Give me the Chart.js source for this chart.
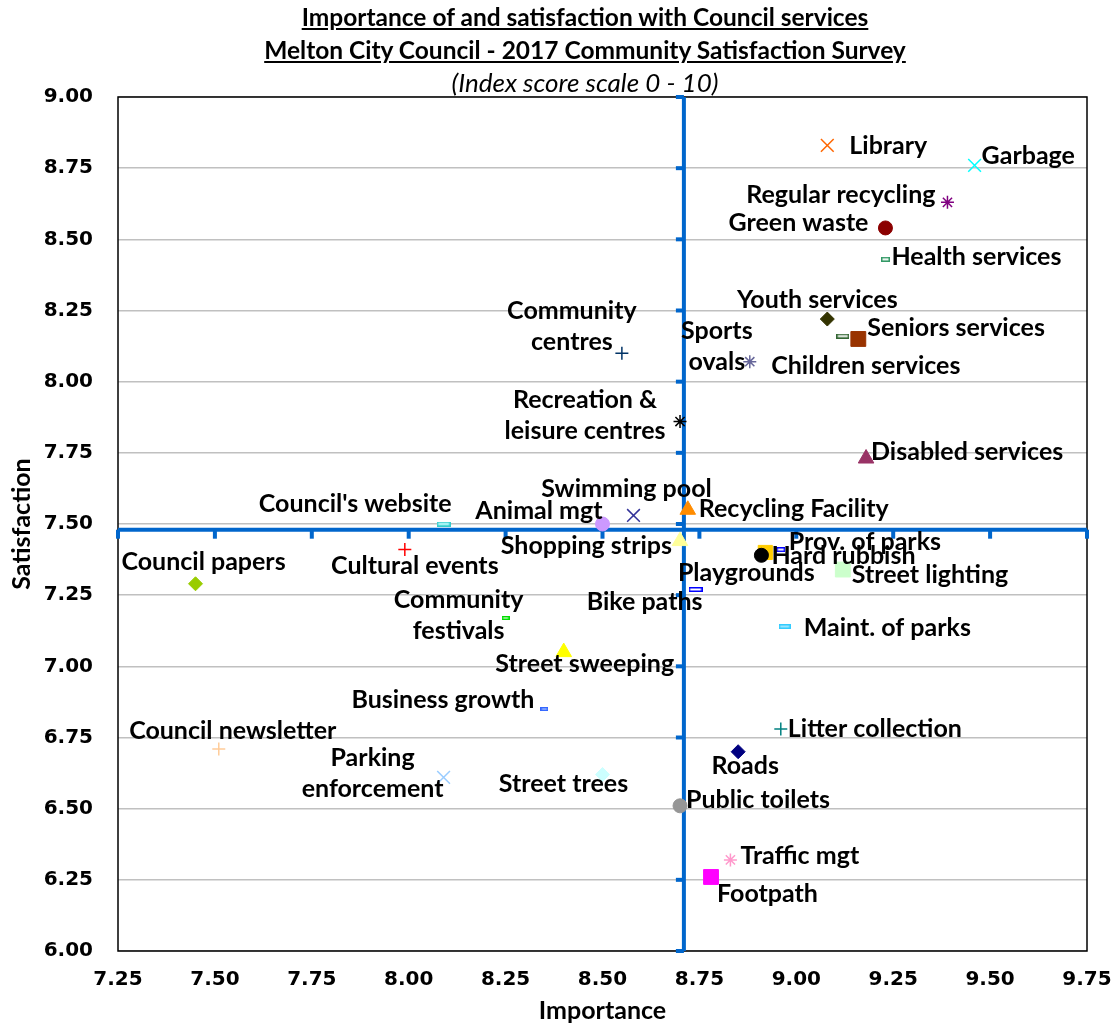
<!DOCTYPE html>
<html>
<head>
<meta charset="utf-8">
<title>Importance of and satisfaction with Council services</title>
<script src="https://cdn.jsdelivr.net/npm/chart.js@4.4.1/dist/chart.umd.min.js"></script>
<style>
  html, body { margin: 0; padding: 0; background: #fff; }
  #wrap { position: relative; width: 1115px; height: 1028px; }
  #titles {
    position: absolute; left: 0; top: 0; width: 1170px;
    text-align: center; font-family: Lato, sans-serif; font-size: 24.5px;
    line-height: 33px; color: #000;
  }
  #titles .main { font-weight: bold; text-decoration: underline; }
  #titles .sub { font-style: italic; font-size: 26px; }
  canvas { position: absolute; left: 0; top: 0; }
</style>
</head>
<body>
<div id="wrap">
  <canvas id="chart" width="1115" height="1028"></canvas>
  <div id="titles">
    <div class="main">Importance of and satisfaction with Council services</div>
    <div class="main">Melton City Council - 2017 Community Satisfaction Survey</div>
    <div class="sub">(Index score scale 0 - 10)</div>
  </div>
</div>
<script>
// values
const services = [
  "Library", "Garbage", "Regular recycling", "Green waste", "Health services",
  "Youth services", "Seniors services", "Children services", "Sports ovals",
  "Community centres", "Recreation & leisure centres", "Disabled services",
  "Recycling Facility", "Swimming pool", "Animal mgt", "Shopping strips",
  "Council's website", "Cultural events", "Council papers", "Community festivals",
  "Street sweeping", "Business growth", "Council newsletter", "Parking enforcement",
  "Street trees", "Public toilets", "Roads", "Litter collection", "Traffic mgt",
  "Footpath", "Maint. of parks", "Bike paths", "Playgrounds", "Hard rubbish",
  "Prov. of parks", "Street lighting"
];
const importance = [
  9.08, 9.46, 9.39, 9.23, 9.23,
  9.08, 9.16, 9.12, 8.88,
  8.55, 8.70, 9.18,
  8.72, 8.58, 8.50, 8.70,
  8.09, 7.99, 7.45, 8.25,
  8.40, 8.35, 7.51, 8.09,
  8.50, 8.70, 8.85, 8.96, 8.83,
  8.78, 8.97, 8.74, 8.92, 8.91,
  8.96, 9.12
];
const satisfaction = [
  8.83, 8.76, 8.63, 8.54, 8.43,
  8.22, 8.15, 8.16, 8.07,
  8.10, 7.86, 7.73,
  7.55, 7.53, 7.50, 7.44,
  7.50, 7.41, 7.29, 7.17,
  7.05, 6.85, 6.71, 6.61,
  6.62, 6.51, 6.70, 6.78, 6.32,
  6.26, 7.14, 7.27, 7.40, 7.39,
  7.41, 7.34
];
const meanImportance = 8.71;
const meanSatisfaction = 7.48;
const xMin = 7.25, xMax = 9.75, yMin = 6.00, yMax = 9.00, tickStep = 0.25;

// small outlined bar used by Excel's "dash" marker
function dash(w, h, stroke, fill) {
  const c = document.createElement("canvas");
  c.width = w; c.height = h;
  const g = c.getContext("2d");
  g.fillStyle = fill;
  g.fillRect(0, 0, w, h);
  g.strokeStyle = stroke;
  g.lineWidth = 1.5;
  g.strokeRect(0.75, 0.75, w - 1.5, h - 1.5);
  return c;
}

// marker look per service: [style, colour, radius]
const markers = {
  "Library": ["crossRot", "#FF6600", 9],
  "Garbage": ["crossRot", "#00FFFF", 9],
  "Regular recycling": ["star", "#800080", 6.5],
  "Green waste": ["circle", "#8B0000", 7],
  "Health services": [dash(9, 5, "#339966", "#FFFFFF"), "#339966", 5],
  "Youth services": ["rectRot", "#333300", 7],
  "Seniors services": ["rect", "#993300", 10.5],
  "Children services": [dash(13, 5, "#336633", "#FFFFFF"), "#336633", 5],
  "Sports ovals": ["star", "#666699", 6.5],
  "Community centres": ["cross", "#003366", 6.5],
  "Recreation & leisure centres": ["star", "#000000", 6.5],
  "Disabled services": ["triangle", "#993366", 9],
  "Recycling Facility": ["triangle", "#FF8C00", 9],
  "Swimming pool": ["crossRot", "#333399", 9],
  "Animal mgt": ["circle", "#CC99FF", 7],
  "Shopping strips": ["triangle", "#FFFF99", 9],
  "Council's website": [dash(14, 5, "#33CCCC", "#CCFFFF"), "#33CCCC", 5],
  "Cultural events": ["cross", "#FF0000", 6.5],
  "Council papers": ["rectRot", "#99CC00", 7],
  "Community festivals": [dash(8, 4, "#00DD00", "#FFFFFF"), "#00DD00", 4],
  "Street sweeping": ["triangle", "#FFFF00", 9],
  "Business growth": [dash(8, 4, "#3366FF", "#CCDDFF"), "#3366FF", 4],
  "Council newsletter": ["cross", "#FFCC99", 6.5],
  "Parking enforcement": ["crossRot", "#99CCFF", 9],
  "Street trees": ["rectRot", "#CCFFFF", 7],
  "Public toilets": ["circle", "#969696", 7],
  "Roads": ["rectRot", "#000080", 7],
  "Litter collection": ["cross", "#008080", 6.5],
  "Traffic mgt": ["star", "#FF99CC", 6.5],
  "Footpath": ["rect", "#FF00FF", 10.5],
  "Maint. of parks": [dash(12, 5, "#33CCFF", "#99E6FF"), "#33CCFF", 5],
  "Bike paths": [dash(14, 5, "#0000FF", "#FFFFFF"), "#0000FF", 5],
  "Playgrounds": ["rect", "#FFCC00", 10],
  "Hard rubbish": ["circle", "#000000", 7],
  "Prov. of parks": [dash(9, 5, "#0000FF", "#FFFFFF"), "#0000FF", 5],
  "Street lighting": ["rect", "#CCFFCC", 10.5]
};

// label placement: [anchor, dx, dy, lines]  anchor l = text starts at dx, r = text ends at dx, c = centred
const labelPlace = {
  "Library": ["l", 22, 1],
  "Garbage": ["l", 7, -9],
  "Regular recycling": ["r", -12, -7],
  "Green waste": ["r", -17, -5],
  "Health services": ["l", 6, -2],
  "Youth services": ["c", -10, -19],
  "Seniors services": ["l", 9, -11],
  "Children services": ["c", 23, 30],
  "Sports ovals": ["c", -33, -15, ["Sports", "ovals"]],
  "Community centres": ["c", -50, -27, ["Community", "centres"]],
  "Recreation & leisure centres": ["c", -95, -6, ["Recreation &", "leisure centres"]],
  "Disabled services": ["l", 5, -7],
  "Recycling Facility": ["l", 11, -1],
  "Swimming pool": ["c", -7, -27],
  "Animal mgt": ["r", 0, -13],
  "Shopping strips": ["r", -8, 5],
  "Council's website": ["r", 8, -20],
  "Cultural events": ["c", 10, 16],
  "Council papers": ["c", 8, -22],
  "Community festivals": ["c", -47, -3, ["Community", "festivals"]],
  "Street sweeping": ["c", 21, 12],
  "Business growth": ["r", -10, -9],
  "Council newsletter": ["c", 14, -18],
  "Parking enforcement": ["c", -71, -4, ["Parking", "enforcement"]],
  "Street trees": ["c", -39, 9],
  "Public toilets": ["l", 6, -6],
  "Roads": ["c", 7, 14],
  "Litter collection": ["l", 7, 0],
  "Traffic mgt": ["l", 10, -4],
  "Footpath": ["l", 6, 17],
  "Maint. of parks": ["l", 19, 1],
  "Bike paths": ["r", 7, 12],
  "Playgrounds": ["c", -19, 20],
  "Hard rubbish": ["l", 10, 1],
  "Prov. of parks": ["l", 8, -8],
  "Street lighting": ["l", 9, 5]
};

const LABEL_FONT = "bold 25px Lato";
const TICK_FONT = { family: "'DejaVu Sans'", size: 20, weight: "bold" };
const AXIS_TITLE_FONT = { family: "Lato", size: 25, weight: "bold" };
const CROSS_COLOR = "#0066CC";

const points = services.map((s, i) => ({ x: importance[i], y: satisfaction[i] }));

const framePlugin = {
  id: "frame",
  beforeDatasetsDraw(chart) {
    const { ctx, chartArea: a, scales } = chart;
    ctx.save();
    ctx.strokeStyle = "#000";
    ctx.lineWidth = 1.5;
    ctx.strokeRect(a.left, a.top, a.right - a.left, a.bottom - a.top);
    // little tick marks hanging off the blue mean lines
    ctx.fillStyle = CROSS_COLOR;
    const cx = scales.x.getPixelForValue(meanImportance);
    const cy = scales.y.getPixelForValue(meanSatisfaction);
    scales.y.ticks.forEach(t => {
      const py = scales.y.getPixelForValue(t.value);
      ctx.fillRect(cx - 8, py - 2, 8, 4);
    });
    scales.x.ticks.forEach(t => {
      const px = scales.x.getPixelForValue(t.value);
      ctx.fillRect(px - 2, cy, 4, 9);
    });
    ctx.restore();
  }
};

const labelPlugin = {
  id: "pointLabels",
  afterDatasetsDraw(chart) {
    const { ctx } = chart;
    const meta = chart.getDatasetMeta(0);
    ctx.save();
    ctx.font = LABEL_FONT;
    ctx.fillStyle = "#000";
    ctx.textBaseline = "middle";
    meta.data.forEach((el, i) => {
      const [anchor, dx, dy, lines] = labelPlace[services[i]];
      const text = lines || [services[i]];
      ctx.textAlign = anchor === "l" ? "left" : anchor === "r" ? "right" : "center";
      const lh = 31;
      const y0 = el.y + dy - (text.length - 1) * lh / 2;
      text.forEach((t, k) => ctx.fillText(t, el.x + dx, y0 + k * lh));
    });
    ctx.restore();
  }
};

new Chart(document.getElementById("chart"), {
  type: "scatter",
  data: {
    datasets: [
      {
        label: "Services",
        data: points,
        order: 0,
        pointStyle: services.map(s => markers[s][0]),
        pointRadius: services.map(s => markers[s][2]),
        pointBackgroundColor: services.map(s => markers[s][1]),
        pointBorderColor: services.map(s => markers[s][1]),
        pointBorderWidth: services.map(s => (["cross", "crossRot", "star"].includes(markers[s][0]) ? 1.5 : 1))
      },
      {
        label: "Mean importance",
        type: "line",
        data: [{ x: meanImportance, y: yMin }, { x: meanImportance, y: yMax }],
        showLine: true, borderColor: CROSS_COLOR, borderWidth: 4, pointRadius: 0, order: 1
      },
      {
        label: "Mean satisfaction",
        type: "line",
        data: [{ x: xMin, y: meanSatisfaction }, { x: xMax, y: meanSatisfaction }],
        showLine: true, borderColor: CROSS_COLOR, borderWidth: 4, pointRadius: 0, order: 1
      }
    ]
  },
  options: {
    responsive: false,
    animation: false,
    layout: { padding: { top: 97, right: 28, left: 0, bottom: 0 } },
    plugins: { legend: { display: false }, tooltip: { enabled: false }, title: { display: false } },
    scales: {
      x: {
        type: "linear", min: xMin, max: xMax,
        // tick padding would otherwise also be added to the side padding
        afterFit: s => { s.height = 77; s.paddingRight = 28; s.paddingLeft = 0; },
        ticks: { stepSize: tickStep, callback: v => v.toFixed(2), font: TICK_FONT, color: "#000", padding: 17, maxRotation: 0 },
        grid: { display: false, drawTicks: false },
        border: { display: false },
        title: { display: true, text: "Importance", font: AXIS_TITLE_FONT, color: "#000", padding: { top: 0, bottom: 2 } }
      },
      y: {
        type: "linear", min: yMin, max: yMax,
        afterFit: s => { s.width = 118; },
        ticks: { stepSize: tickStep, callback: v => v.toFixed(2), font: TICK_FONT, color: "#000", padding: 25 },
        grid: { color: "#C0C0C0", lineWidth: 1.5, drawTicks: false },
        border: { display: false },
        title: { display: true, text: "Satisfaction", font: AXIS_TITLE_FONT, color: "#000", padding: { top: 7, bottom: 0 } }
      }
    }
  },
  plugins: [framePlugin, labelPlugin]
});
</script>
</body>
</html>
